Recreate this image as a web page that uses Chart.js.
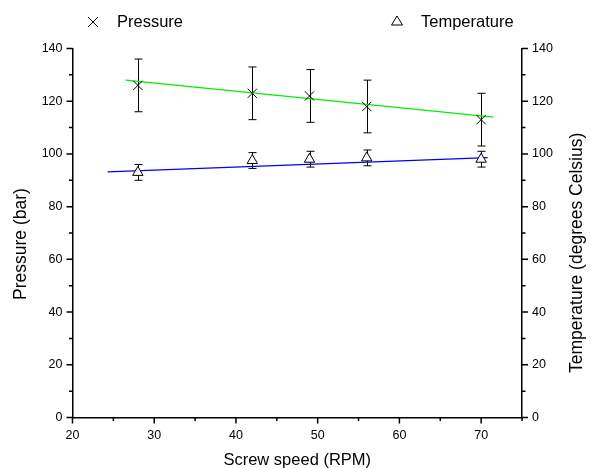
<!DOCTYPE html>
<html>
<head>
<meta charset="utf-8">
<script src="https://cdn.jsdelivr.net/npm/chart.js@4.4.1/dist/chart.umd.min.js"></script>
<style>
html,body{margin:0;padding:0;background:#fff;}
#wrap{width:591px;height:468px;position:relative;}
</style>
</head>
<body>
<div id="wrap"><canvas id="c" width="591" height="468"></canvas></div>
<script>
// ---- data ----
const screwSpeed = [28, 42, 49, 56, 70];
const pressure = [126, 123, 122, 118, 113];
const pressureErr = [10, 10, 10, 10, 10];
const temperature = [93, 97.5, 98, 98.5, 98];
const temperatureErr = [3, 3, 3, 3, 3];
const pressureFitX = [26.5, 71.5];
const pressureFitY = [128, 114];
const temperatureFitX = [24.3, 70.8];
const temperatureFitY = [93.2, 98.6];
const xTicks = [20, 30, 40, 50, 60, 70];
const xMinorTicks = [25, 35, 45, 55, 65, 75];
const yTicks = [0, 20, 40, 60, 80, 100, 120, 140];
const yMinorTicks = [10, 30, 50, 70, 90, 110, 130];
const xTitle = 'Screw speed (RPM)';
const yTitle = 'Pressure (bar)';
const y2Title = 'Temperature (degrees Celsius)';
const legendLabels = ['Pressure', 'Temperature'];

const FONT = '"Liberation Sans", Arial, sans-serif';
const pts = (xs, ys) => xs.map((x, i) => ({x: x, y: ys[i]}));

const extras = {
  id: 'extras',
  beforeDatasetsDraw(chart) {
    const ctx = chart.ctx;
    const xs = chart.scales.x;
    ctx.save();
    ctx.strokeStyle = '#000';
    ctx.lineWidth = 1;
    const drawErr = (vals, errs, sc) => {
      vals.forEach((v, i) => {
        const px = Math.round(xs.getPixelForValue(screwSpeed[i])) + 0.5;
        const top = sc.getPixelForValue(v + errs[i]);
        const bot = sc.getPixelForValue(v - errs[i]);
        ctx.beginPath();
        ctx.moveTo(px, top); ctx.lineTo(px, bot);
        ctx.moveTo(px - 4, top); ctx.lineTo(px + 4, top);
        ctx.moveTo(px - 4, bot); ctx.lineTo(px + 4, bot);
        ctx.stroke();
      });
    };
    drawErr(pressure, pressureErr, chart.scales.y);
    drawErr(temperature, temperatureErr, chart.scales.y2);
    ctx.restore();
  },
  afterDraw(chart) {
    const ctx = chart.ctx;
    const a = chart.chartArea;
    const xs = chart.scales.x, ys = chart.scales.y, y2 = chart.scales.y2;
    ctx.save();
    ctx.strokeStyle = '#000';
    ctx.lineWidth = 1.5;
    ctx.beginPath();
    xTicks.forEach(v => { const p = xs.getPixelForValue(v); ctx.moveTo(p, a.bottom); ctx.lineTo(p, a.bottom + 6); });
    xMinorTicks.forEach(v => { const p = xs.getPixelForValue(v); ctx.moveTo(p, a.bottom); ctx.lineTo(p, a.bottom + 3.5); });
    yTicks.forEach(v => {
      const p = ys.getPixelForValue(v);
      ctx.moveTo(a.left, p); ctx.lineTo(a.left - 6, p);
      const q = y2.getPixelForValue(v);
      ctx.moveTo(a.right, q); ctx.lineTo(a.right + 6, q);
    });
    yMinorTicks.forEach(v => {
      const p = ys.getPixelForValue(v);
      ctx.moveTo(a.left, p); ctx.lineTo(a.left - 3.5, p);
      const q = y2.getPixelForValue(v);
      ctx.moveTo(a.right, q); ctx.lineTo(a.right + 3.5, q);
    });
    ctx.stroke();

    // axis titles
    ctx.fillStyle = '#000';
    ctx.font = '16.5px ' + FONT;
    ctx.textAlign = 'center';
    ctx.textBaseline = 'middle';
    ctx.fillText(xTitle, (a.left + a.right) / 2, 460);
    ctx.font = '17.5px ' + FONT;
    ctx.save();
    ctx.translate(21, 244);
    ctx.rotate(-Math.PI / 2);
    ctx.fillText(yTitle, 0, 0);
    ctx.restore();
    ctx.save();
    ctx.translate(577, 373);
    ctx.rotate(-Math.PI / 2);
    ctx.textAlign = 'left';
    ctx.fillText(y2Title, 0, 0);
    ctx.restore();

    // legend
    ctx.font = '16.5px ' + FONT;
    ctx.lineWidth = 1;
    ctx.beginPath();
    ctx.moveTo(88, 17); ctx.lineTo(98, 27);
    ctx.moveTo(98, 17); ctx.lineTo(88, 27);
    ctx.stroke();
    ctx.beginPath();
    ctx.moveTo(397, 16); ctx.lineTo(402.5, 25); ctx.lineTo(391.5, 25); ctx.closePath();
    ctx.stroke();
    ctx.textAlign = 'left';
    ctx.fillText(legendLabels[0], 117, 22);
    ctx.fillText(legendLabels[1], 421, 22);
    ctx.restore();
  }
};

new Chart(document.getElementById('c'), {
  type: 'line',
  data: {
    datasets: [
      {label: legendLabels[0], data: pts(screwSpeed, pressure), yAxisID: 'y', showLine: false,
       pointStyle: 'crossRot', pointRadius: 6.5, borderColor: '#000', backgroundColor: '#000', borderWidth: 1, order: 1},
      {label: legendLabels[1], data: pts(screwSpeed, temperature), yAxisID: 'y2', showLine: false,
       pointStyle: 'triangle', pointRadius: 6, borderColor: '#000', backgroundColor: '#fff', borderWidth: 1, order: 1},
      {label: 'fitP', data: pts(pressureFitX, pressureFitY), yAxisID: 'y', borderColor: '#00ee00',
       borderWidth: 1.2, pointRadius: 0, order: 2},
      {label: 'fitT', data: pts(temperatureFitX, temperatureFitY), yAxisID: 'y2', borderColor: '#0000ff',
       borderWidth: 1.2, pointRadius: 0, order: 2}
    ]
  },
  options: {
    responsive: false,
    animation: false,
    events: [],
    layout: {padding: {top: 48.5, left: 0, right: 0, bottom: 0}},
    plugins: {legend: {display: false}, tooltip: {enabled: false}, title: {display: false}},
    scales: {
      x: {
        type: 'linear', min: 20, max: 75,
        afterBuildTicks: s => { s.ticks = xTicks.map(v => ({value: v})); },
        afterFit: s => { s.height = 50.5; },
        grid: {display: false, drawTicks: false},
        border: {display: true, color: '#000', width: 1.5},
        ticks: {padding: 11, color: '#000', font: {family: FONT, size: 12.5}, maxRotation: 0}
      },
      y: {
        type: 'linear', position: 'left', min: 0, max: 140,
        afterBuildTicks: s => { s.ticks = yTicks.map(v => ({value: v})); },
        afterFit: s => { s.width = 72.5; },
        grid: {display: false, drawTicks: false},
        border: {display: true, color: '#000', width: 1.5},
        ticks: {padding: 10, color: '#000', font: {family: FONT, size: 12.5}}
      },
      y2: {
        type: 'linear', position: 'right', min: 0, max: 140,
        afterBuildTicks: s => { s.ticks = yTicks.map(v => ({value: v})); },
        afterFit: s => { s.width = 69; },
        grid: {display: false, drawTicks: false},
        border: {display: true, color: '#000', width: 1.5},
        ticks: {padding: 10, color: '#000', font: {family: FONT, size: 12.5}}
      }
    }
  },
  plugins: [extras]
});
</script>
</body>
</html>
